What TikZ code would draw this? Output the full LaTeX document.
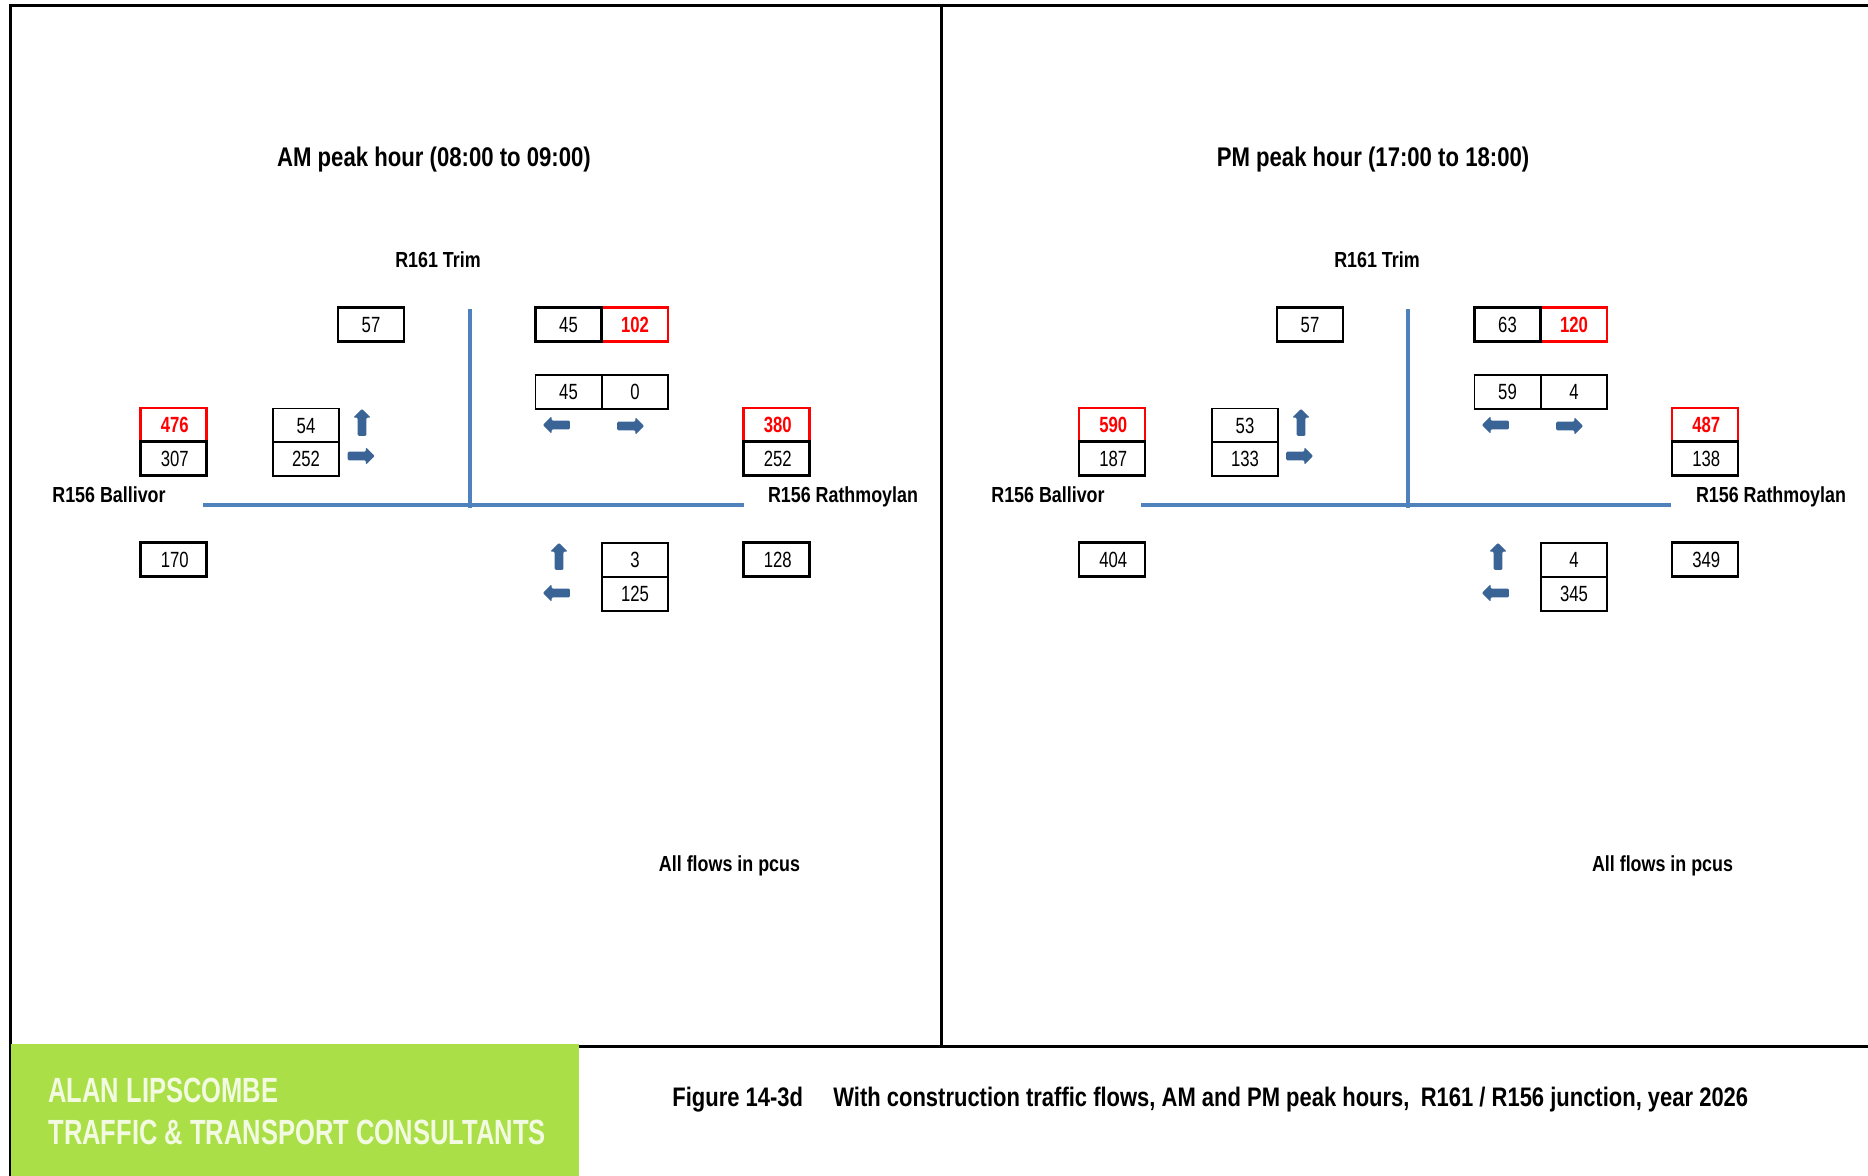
\documentclass[tikz,border=0pt]{standalone}
\usepackage{fontspec}
\usetikzlibrary{shapes.arrows}
\setmainfont{Liberation Sans}
\newfontface\numfont{Liberation Sans}[FakeStretch=0.76]
\newfontface\numbold{Liberation Sans Bold}[FakeStretch=0.76]
\newfontface\lblfont{Liberation Sans Bold}[FakeStretch=0.82]
\newfontface\logofont{Liberation Sans Bold}[FakeStretch=0.73]
\definecolor{road}{HTML}{4F81BD}
\definecolor{arr}{HTML}{3A6496}
\definecolor{logo}{HTML}{ABDF47}
\definecolor{logotext}{HTML}{F3FAE2}
\tikzset{
  x=0.5pt,y=-0.5pt,
  flowbase/.style={rectangle,inner sep=0pt,minimum width=33pt,minimum height=17pt,text height=7.9pt,text depth=0pt,font=\numfont\fontsize{11}{12}\selectfont},
  thin box/.style={flowbase,draw=black,line width=0.85pt},
  thick box/.style={flowbase,draw=black,line width=1.4pt},
  red box/.style={flowbase,draw=red,line width=1.4pt,text=red,font=\numbold\fontsize{11}{12}\selectfont},
  nudged/.style={execute at begin node=\hspace*{1.2pt}},
  road line/.style={draw=road,line width=1.8pt},
  frame line/.style={draw=black,line width=1.5pt},
  label/.style={inner sep=0pt,text height=7.9pt,text depth=0pt,font=\lblfont\fontsize{10.9}{12}\selectfont},
  title/.style={inner sep=0pt,font=\lblfont\fontsize{13.5}{15}\selectfont},
  caption/.style={inner sep=0pt,font=\lblfont\fontsize{13.4}{15}\selectfont},
  flow arrow/.style={single arrow,fill=arr,inner sep=0pt,text width=4pt,text height=4pt,text depth=0pt,minimum height=13.5pt,single arrow head extend=2.2pt,single arrow head indent=0pt,rounded corners=0.6pt},
  up arrow/.style={flow arrow,shape border rotate=90,yshift=-1pt},
  right arrow/.style={flow arrow,shape border rotate=0,xshift=-1pt},
  left arrow/.style={flow arrow,shape border rotate=180,xshift=1pt},
}
\begin{document}
\begin{tikzpicture}
\useasboundingbox (0,0) rectangle (1868,1176);
% frame
\coordinate (fTL) at (10,6); \coordinate (fTR) at (1868,6);
\coordinate (fBL) at (10,1176);
\coordinate (dT) at (941.5,6); \coordinate (dB) at (941.5,1046);
\coordinate (bL) at (578,1046); \coordinate (bR) at (1868,1046);
\draw[frame line] (fBL) -- (fTL) -- (fTR);
\draw[frame line] (dT) -- (dB);
\draw[frame line] (bL) -- (bR);
\fill[logo] (11,1044) rectangle (579,1176);
\node[anchor=west,inner sep=0pt,text=logotext,font=\logofont\fontsize{17.5}{18}\selectfont] (logoA) at (48,1090) {ALAN LIPSCOMBE};
\node[anchor=west,inner sep=0pt,text=logotext,font=\logofont\fontsize{17.5}{18}\selectfont] (logoB) at (48,1132) {TRAFFIC \& TRANSPORT CONSULTANTS};
% captions
\node[caption,anchor=west] (figA) at (672,1099.5) {Figure 14-3d};
\node[caption,anchor=west] (figB) at (833,1099.5) {With construction traffic flows, AM and PM peak hours,\ \hspace{2.6pt}R161 / R156 junction, year 2026};
% AM panel
\node[title] (amT) at (434,159.5) {AM peak hour (08:00 to 09:00)};
\node[label] (amN) at (438,260) {R161 Trim};
\node[label] (amW) at (109,495) {R156 Ballivor};
\node[label] (amE) at (843,495) {R156 Rathmoylan};
\node[label] (amF) at (729.5,864) {All flows in pcus};
\coordinate (amR1) at (470,309); \coordinate (amR2) at (470,508);
\coordinate (amR3) at (203,505); \coordinate (amR4) at (744,505);
\draw[road line] (amR1) -- (amR2);
\draw[road line] (amR3) -- (amR4);
\node[red box,nudged] (a476) at (173.5,425) {476};
\node[thick box,nudged] (a307) at (173.5,458.5) {307};
\node[thick box,nudged] (a170) at (173.5,559.5) {170};
\node[thick box] (a57) at (371,324.5) {57};
\node[thin box] (a54) at (306,425.5) {54};
\node[thin box] (a252) at (306,459) {252};
\node[up arrow] (aU1) at (362,422.5) {};
\node[right arrow] (aR1) at (361,456) {};
\node[red box] (a102) at (635,324.5) {102};
\node[thick box] (a45t) at (568.5,324.5) {45};
\node[thin box] (a45) at (568.5,392) {45};
\node[thin box] (a0) at (635,392) {0};
\node[left arrow] (aL1) at (556.5,425) {};
\node[right arrow] (aR2) at (630.5,426) {};
\node[red box,nudged] (a380) at (776.5,425) {380};
\node[thick box,nudged] (a252e) at (776.5,458.5) {252};
\node[thick box,nudged] (a128) at (776.5,559.5) {128};
\node[thin box] (a3) at (635,560) {3};
\node[thin box] (a125) at (635,594) {125};
\node[up arrow] (aU2) at (559,556.5) {};
\node[left arrow] (aL2) at (556.5,593) {};
% PM panel
\node[title] (pmT) at (1373,159.5) {PM peak hour (17:00 to 18:00)};
\node[label] (pmN) at (1377,260) {R161 Trim};
\node[label] (pmW) at (1048,495) {R156 Ballivor};
\node[label] (pmE) at (1771,495) {R156 Rathmoylan};
\node[label] (pmF) at (1662.5,864) {All flows in pcus};
\coordinate (pmR1) at (1408,309); \coordinate (pmR2) at (1408,508);
\coordinate (pmR3) at (1141,505); \coordinate (pmR4) at (1671,505);
\draw[road line] (pmR1) -- (pmR2);
\draw[road line] (pmR3) -- (pmR4);
\node[red box,nudged] (p590) at (1112,425) {590};
\node[thick box,nudged] (p187) at (1112,458.5) {187};
\node[thick box,nudged] (p404) at (1112,559.5) {404};
\node[thick box] (p57) at (1310,324.5) {57};
\node[thin box] (p53) at (1245,425.5) {53};
\node[thin box] (p133) at (1245,459) {133};
\node[up arrow] (pU1) at (1301,422.5) {};
\node[right arrow] (pR1) at (1299.5,456) {};
\node[red box] (p120) at (1574,324.5) {120};
\node[thick box] (p63) at (1507.5,324.5) {63};
\node[thin box] (p59) at (1507.5,392) {59};
\node[thin box] (p4t) at (1574,392) {4};
\node[left arrow] (pL1) at (1495.5,425) {};
\node[right arrow] (pR2) at (1569.5,426) {};
\node[red box,nudged] (p487) at (1705,425) {487};
\node[thick box,nudged] (p138) at (1705,458.5) {138};
\node[thick box,nudged] (p349) at (1705,559.5) {349};
\node[thin box] (p4) at (1574,560) {4};
\node[thin box] (p345) at (1574,594) {345};
\node[up arrow] (pU2) at (1498,556.5) {};
\node[left arrow] (pL2) at (1495.5,593) {};
\end{tikzpicture}
\end{document}
